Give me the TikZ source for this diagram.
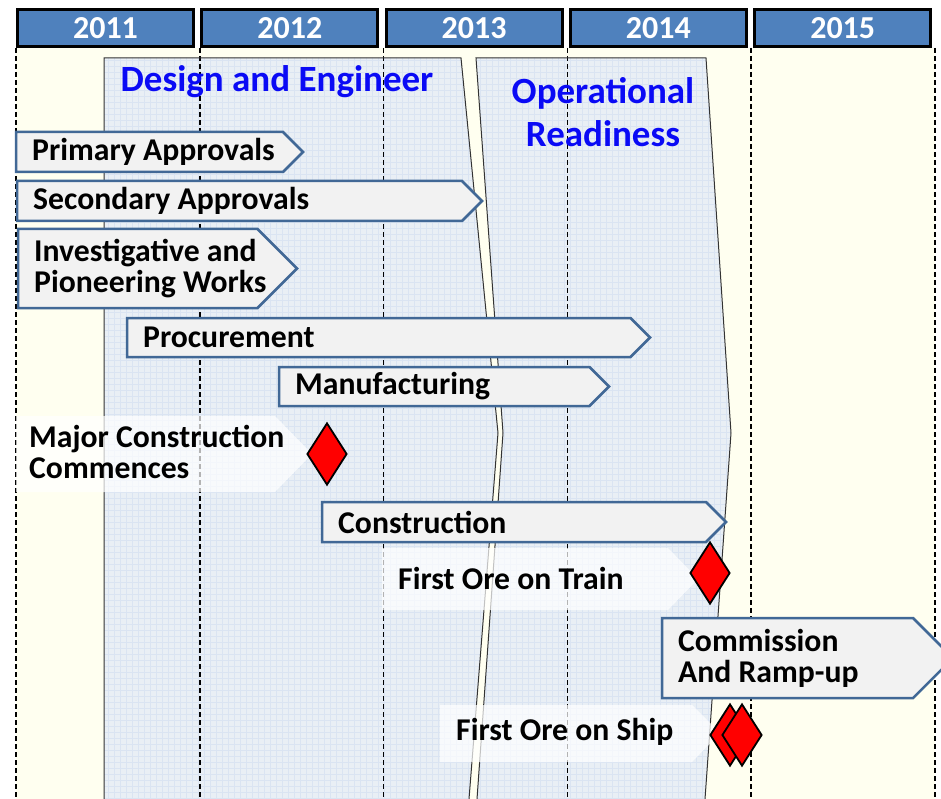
\documentclass[tikz,border=0pt]{standalone}
\usepackage{fontspec}
\setmainfont{Carlito}
\usetikzlibrary{shapes.geometric}
\definecolor{yearblue}{RGB}{79,129,189}
\definecolor{barline}{RGB}{65,104,150}
\definecolor{barfill}{RGB}{242,242,242}
\definecolor{cream}{RGB}{255,255,240}
\definecolor{panelfill}{RGB}{233,239,245}
\definecolor{panelgrid}{RGB}{218,228,242}
\definecolor{titleblue}{RGB}{10,10,245}

\tikzset{
  yearbox/.style={draw=black, line width=3pt, fill=yearblue, text=white,
    font=\fontsize{32}{32}\selectfont\bfseries, minimum width=176pt, minimum height=37pt, inner sep=0},
  yearline/.style={black, line width=1.6pt, dash pattern=on 5pt off 3pt},
  phase/.style={draw=black!80, line width=1pt},
  phasetitle/.style={text=titleblue, font=\fontsize{37}{43}\selectfont\bfseries, align=center, inner sep=0},
  taskline/.style={draw=barline, line width=2.5pt, fill=barfill},
  tasktext/.style={font=\fontsize{31.7}{31}\selectfont\bfseries, align=left, inner sep=0},
  callout/.style={fill=white, fill opacity=.7},
  milestone/.style={diamond, draw=black, line width=1.8pt, fill=red,
    minimum width=40pt, minimum height=62pt, inner sep=0}
}

% name, left, right, top, bottom, text
\newcommand{\taskbar}[6]{%
  \draw[taskline] (#2,#4) -- ({#3-(#5-#4)/2},#4) -- (#3,{(#4+#5)/2})
    -- ({#3-(#5-#4)/2},#5) -- (#2,#5) -- cycle;
  \node[tasktext, anchor=west] (#1) at (#2+16,{(#4+#5)/2}) {#6};
}

\begin{document}
\begin{tikzpicture}[x=1pt, y=-1pt]
\useasboundingbox (0,0) rectangle (941,799);
\fill[cream] (16,48) rectangle (935,799);

% the two phases
\fill[panelfill] (104,58) -- (461,58) -- (498,433) -- (469,799) -- (104,799) -- cycle;
\fill[panelfill] (476,58) -- (706,58) -- (731,433) -- (705,799) -- (477,799) -- (503,433) -- cycle;
\begin{scope}
  \clip (104,58) -- (461,58) -- (498,433) -- (469,799) -- (104,799) -- cycle
        (476,58) -- (706,58) -- (731,433) -- (705,799) -- (477,799) -- (503,433) -- cycle;
  \draw[panelgrid, line width=.4pt, step=6pt] (100,799) grid (740,50);
\end{scope}

\foreach \i in {0,...,5}
  \draw[yearline] ({16+183.8*\i},48) -- ++(0,751);

\draw[phase] (104,799) -- (104,58) -- (461,58) -- (498,433) -- (469,799);
\draw[phase] (477,799) -- (503,433) -- (476,58) -- (706,58) -- (731,433) -- (705,799);

\node[phasetitle] (design) at (277,82) {Design and Engineer};
\node[phasetitle] (ready) at (603,112) {Operational\\Readiness};

\foreach \yr [count=\i from 0] in {2011,2012,2013,2014,2015}
  \node[yearbox] (y\yr) at ({105.5+184.3*\i},28) {\yr};

% milestone callouts
\fill[callout] (16,416) -- (275,416) -- (312,454) -- (275,492) -- (16,492) -- cycle;
\fill[callout] (382,548) -- (668,548) -- (698,579) -- (668,610) -- (382,610) -- cycle;
\fill[callout] (440,705) -- (692,705) -- (720,733) -- (692,762) -- (440,762) -- cycle;
\node[tasktext, anchor=west] (majortext) at (29,452) {Major Construction\\Commences};
\node[tasktext, anchor=west] (traintext) at (398,578) {First Ore on Train};
\node[tasktext, anchor=west] (shiptext) at (456,732) {First Ore on Ship};

\taskbar{primary}{16}{303}{132}{172}{Primary Approvals}
\taskbar{secondary}{17}{482}{181}{221}{Secondary Approvals}
\taskbar{pioneer}{18}{297}{229}{308}{Investigative and\\Pioneering Works}
\taskbar{procure}{127}{650}{318}{357}{Procurement}
\taskbar{manuf}{279}{609}{367}{406}{Manufacturing}
\taskbar{constr}{322}{726}{502}{542}{Construction}
\taskbar{commission}{662}{953}{618}{698}{Commission\\And Ramp-up}

\node[milestone] (majorstart) at (327,454) {};
\node[milestone] (ontrain) at (710,573) {};
\node[milestone] (onship) at (730,735) {};
\node[milestone] (onshiptwo) at (742,735) {};
\end{tikzpicture}
\end{document}
